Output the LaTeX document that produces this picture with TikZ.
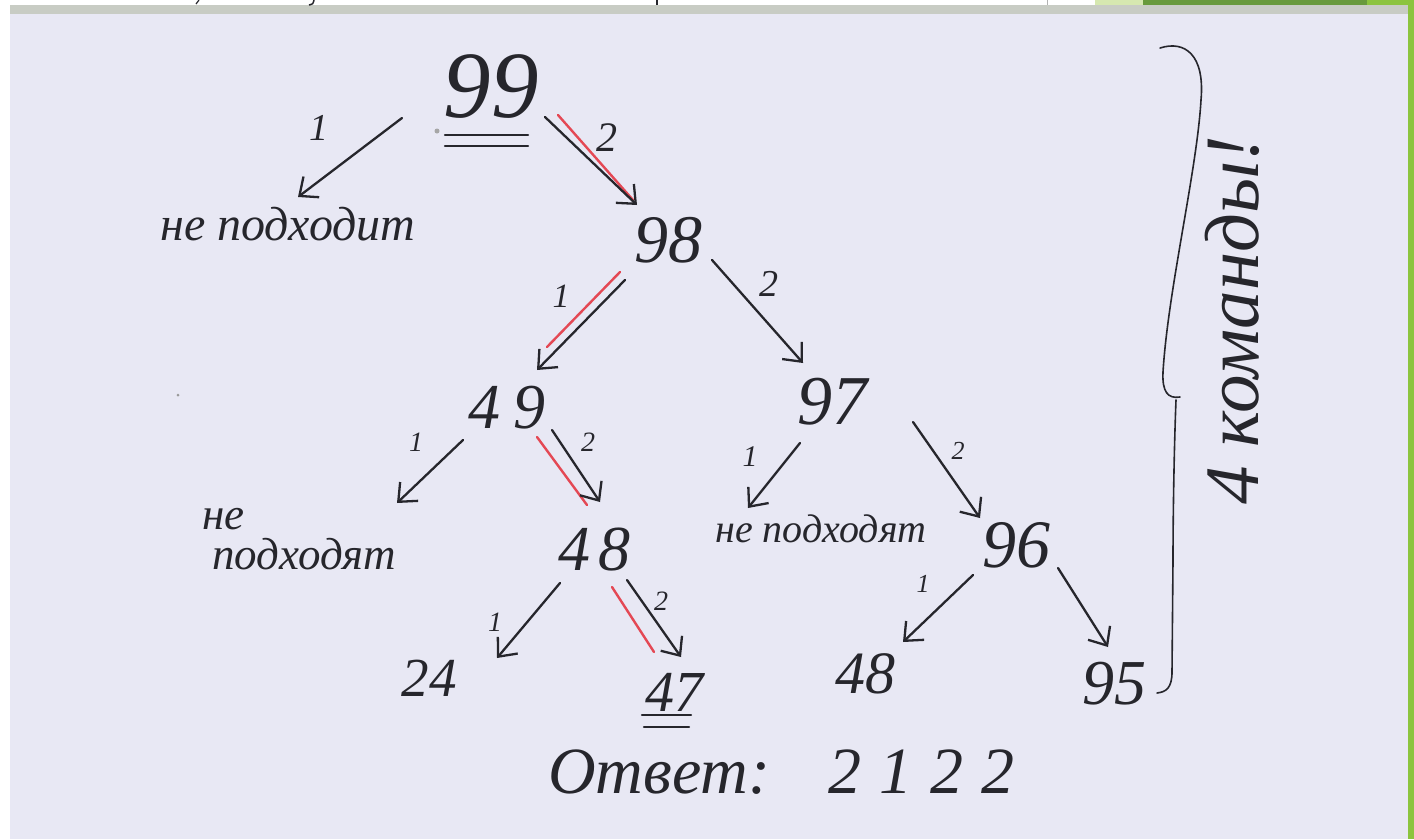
\documentclass[tikz,border=0pt]{standalone}
\usepackage{fontspec}
\setmainfont{Liberation Serif}
\usetikzlibrary{arrows.meta}
\definecolor{paper}{RGB}{232,232,244}
\definecolor{ink}{RGB}{38,38,44}
\definecolor{redpen}{RGB}{228,72,84}
\definecolor{stripgray}{RGB}{200,204,196}
\definecolor{lgreen}{RGB}{214,232,176}
\definecolor{dgreen}{RGB}{104,154,60}
\definecolor{bgreen}{RGB}{140,196,62}
\begin{document}
\begin{tikzpicture}[x=1pt,y=-1pt,
  num/.style={font=\fontsize{#1}{#1}\selectfont\itshape, text=ink, inner sep=0pt},
  lab/.style={font=\fontsize{#1}{#1}\selectfont\itshape, text=ink, inner sep=0pt},
  txt/.style={font=\fontsize{#1}{#1}\selectfont\itshape, text=ink, inner sep=0pt, anchor=base west},
  arr/.style={draw=ink, line width=2.3pt, line cap=round, line join=round,
    -{Straight Barb[length=15pt,width=26pt,line width=2.3pt]}},
  redl/.style={draw=redpen, line width=2.4pt, line cap=round},
  inkline/.style={draw=ink, line width=2.2pt, line cap=round}]
\useasboundingbox (0,0) rectangle (1414,839);
% page background
\fill[white] (0,0) rectangle (1414,839);
\fill[paper] (10,12) rectangle (1408,839);
\fill[stripgray] (10,5) rectangle (1408,14);
\fill[lgreen] (1095,0) rectangle (1143,5);
\fill[dgreen] (1143,0) rectangle (1367,5);
\fill[bgreen] (1367,0) rectangle (1414,5);
\fill[bgreen] (1408,0) rectangle (1414,839);
\draw[ink, line width=1.5pt] (657,0) -- (657,5);
\draw[ink, line width=1.2pt] (199,0) -- (196,4);
\draw[ink, line width=1.5pt] (314,0) .. controls (313,4) .. (309,5);
\draw[gray!60, line width=0.6pt] (1047,0) -- (1047,5);
\fill[gray!70] (437,131) circle (2.5);
\fill[gray!80] (178,395) circle (1.5);

% numbers
\node[num=95] (n99) at (491,87) {99};
\node[num=68] (n98) at (668,240) {98};
\node[num=64] (n49) at (507,408) {4\hspace{14pt}9};
\node[num=70] (n97) at (832,402) {97};
\node[num=64] (n48m) at (594,550) {4\hspace{8pt}8};
\node[num=68] (n96) at (1016,545) {96};
\node[num=55] (n24) at (429,678) {24};
\node[num=58] (n47) at (674,692) {47};
\node[num=60] (n48r) at (865,674) {48};
\node[num=64] (n95) at (1114,684) {95};

% texts
\node[txt=48] (no1) at (160,240) {не подходит};
\node[txt=45] (no2a) at (202,529) {не};
\node[txt=45] (no2b) at (212,569) {подходят};
\node[txt=40] (no3) at (715,542) {не подходят};
\node[txt=66] (ans) at (548,793) {Ответ:\hspace{58pt}2\hspace{18pt}1\hspace{18pt}2\hspace{18pt}2};
\node[txt=77, rotate=90] (cmd) at (1258,505) {4 команды!};

% underlines
\draw[inkline] ([shift={(-46,48)}]n99.center) -- ([shift={(37,48)}]n99.center);
\draw[inkline] ([shift={(-46,59)}]n99.center) -- ([shift={(37,59)}]n99.center);
\draw[inkline] ([shift={(-32,23)}]n47.center) -- ([shift={(17,23)}]n47.center);
\draw[inkline] ([shift={(-30,35)}]n47.center) -- ([shift={(15,35)}]n47.center);

% red marks (the chosen path)
\draw[redl] ([shift={(67,28)}]n99.center) -- ([shift={(-35,-40)}]n98.center);
\draw[redl] ([shift={(-48,32)}]n98.center) -- ([shift={(40,-61)}]n49.center);
\draw[redl] ([shift={(30,29)}]n49.center) -- ([shift={(-7,-45)}]n48m.center);
\draw[redl] ([shift={(18,37)}]n48m.center) -- ([shift={(-20,-40)}]n47.center);

% arrows
\draw[arr] ([shift={(-89,31)}]n99.center) -- ([shift={(138,-43)}]no1.base west);
\draw[arr] ([shift={(54,30)}]n99.center) -- ([shift={(-31,-35)}]n98.center);
\draw[arr] ([shift={(-43,40)}]n98.center) -- ([shift={(30,-38)}]n49.center);
\draw[arr] ([shift={(44,20)}]n98.center) -- ([shift={(-29,-39)}]n97.center);
\draw[arr] ([shift={(-44,32)}]n49.center) -- ([shift={(195,-26)}]no2a.base west);
\draw[arr] ([shift={(45,22)}]n49.center) -- ([shift={(6,-48)}]n48m.center);
\draw[arr] ([shift={(-34,33)}]n48m.center) -- ([shift={(68,-20)}]n24.center);
\draw[arr] ([shift={(33,30)}]n48m.center) -- ([shift={(7,-35)}]n47.center);
\draw[arr] ([shift={(-32,41)}]n97.center) -- ([shift={(33,-34)}]no3.base west);
\draw[arr] ([shift={(81,20)}]n97.center) -- ([shift={(-36,-27)}]n96.center);
\draw[arr] ([shift={(-43,30)}]n96.center) -- ([shift={(38,-32)}]n48r.center);
\draw[arr] ([shift={(42,23)}]n96.center) -- ([shift={(-6,-37)}]n95.center);

% edge labels
\node[lab=38] (l1) at (319,128) {1};
\node[lab=42] (l2) at (607,138) {2};
\node[lab=34] (l3) at (561,296) {1};
\node[lab=38] (l4) at (769,284) {2};
\node[lab=28] (l5) at (416,442) {1};
\node[lab=28] (l6) at (588,442) {2};
\node[lab=28] (l7) at (495,622) {1};
\node[lab=28] (l8) at (661,601) {2};
\node[lab=30] (l9) at (750,457) {1};
\node[lab=26] (l10) at (958,451) {2};
\node[lab=26] (l11) at (923,584) {1};

% brace
\draw[draw=ink, line width=1.6pt, line cap=round]
  (1160,48) .. controls (1185,40) and (1205,55) .. (1201,100)
  .. controls (1197,170) and (1168,290) .. (1163,372)
  .. controls (1162,392) and (1168,399) .. (1180,397);
\draw[draw=ink, line width=1.6pt, line cap=round]
  (1176,400) .. controls (1174,450) and (1173,520) .. (1173,560)
  -- (1172,672) .. controls (1172,688) and (1166,692) .. (1157,693);
\end{tikzpicture}
\end{document}
